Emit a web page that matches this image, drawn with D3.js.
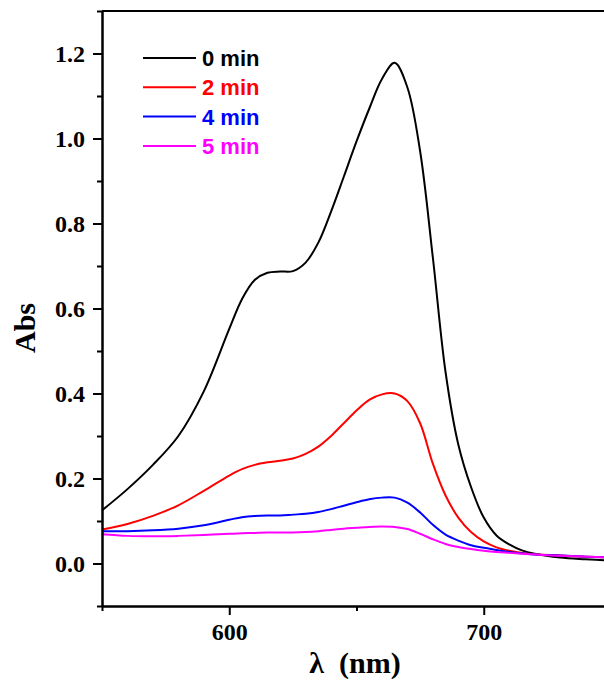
<!DOCTYPE html>
<html><head><meta charset="utf-8">
<script src="https://cdn.jsdelivr.net/npm/d3@7"></script>
<style>body{margin:0;background:#fff}svg{display:block}</style>
</head><body>
<script>
const wavelengths = [550,560,570,580,590,600,605,610,615,620,625,630,635,640,645,650,655,660,665,670,675,680,685,690,695,700,705,710,715,720,730,740,750];
const abs0 = [0.125,0.175,0.232,0.3,0.405,0.552,0.622,0.667,0.684,0.687,0.688,0.708,0.755,0.828,0.91,0.993,1.07,1.14,1.178,1.12,0.97,0.72,0.45,0.28,0.18,0.108,0.066,0.045,0.031,0.023,0.014,0.01,0.007];
const abs2 = [0.08,0.093,0.112,0.137,0.171,0.207,0.222,0.232,0.238,0.242,0.247,0.258,0.275,0.3,0.33,0.36,0.385,0.398,0.4,0.382,0.33,0.235,0.16,0.108,0.074,0.052,0.038,0.03,0.025,0.022,0.019,0.016,0.014];
const abs4 = [0.076,0.076,0.078,0.082,0.09,0.103,0.109,0.112,0.113,0.113,0.115,0.117,0.121,0.128,0.136,0.144,0.151,0.155,0.155,0.143,0.12,0.091,0.068,0.054,0.043,0.037,0.032,0.027,0.024,0.021,0.019,0.016,0.014];
const abs5 = [0.069,0.065,0.064,0.065,0.067,0.07,0.071,0.072,0.073,0.073,0.073,0.074,0.076,0.079,0.082,0.084,0.086,0.087,0.086,0.081,0.07,0.057,0.046,0.039,0.034,0.03,0.027,0.025,0.023,0.021,0.018,0.016,0.014];
const seriesNames = ["0 min","2 min","4 min","5 min"];
const seriesColors = ["#000000","#ff0000","#0000ff","#ff00ff"];
const seriesValues = [abs0, abs2, abs4, abs5];
const xMajorTicks = [600,700];
const xMinorTicks = [550,650,750];
const yMajorTicks = [0,0.2,0.4,0.6,0.8,1.0,1.2];
const yMinorTicks = [-0.1,0.1,0.3,0.5,0.7,0.9,1.1,1.3];

const W = 604, H = 680;
const svg = d3.select("body").append("svg").attr("width", W).attr("height", H);
const x = d3.scaleLinear().domain([550,750]).range([102,611]);
const y = d3.scaleLinear().domain([-0.1,1.3]).range([606,11]);
const serif = "'Liberation Serif','Times New Roman',serif";
const sans = "'Liberation Sans',Arial,sans-serif";

// frame top line
svg.append("line").attr("x1", x(550)).attr("x2", x(750)).attr("y1", y(1.3)).attr("y2", y(1.3))
  .attr("stroke","#000").attr("stroke-width",2);

const line = d3.line().x((d,i)=>x(wavelengths[i])).y(d=>y(d)).curve(d3.curveCatmullRom.alpha(0.5));
seriesValues.forEach((vals, k) => {
  svg.append("path").datum(vals).attr("d", line).attr("fill","none")
    .attr("stroke", seriesColors[k]).attr("stroke-width", 2);
});

function styleAxis(g){
  g.selectAll(".domain").attr("stroke","#000").attr("stroke-width",2);
  g.selectAll(".tick line").attr("stroke","#000").attr("stroke-width",2);
  g.selectAll("text").attr("font-family", serif).attr("font-weight","bold").attr("font-size",24).attr("fill","#000");
}
// y axis
const yMaj = svg.append("g").attr("transform",`translate(${x(550)},0)`)
  .call(d3.axisLeft(y).tickValues(yMajorTicks).tickSize(9).tickPadding(8).tickFormat(d3.format(".1f")).tickSizeOuter(0));
styleAxis(yMaj);
const yMin = svg.append("g").attr("transform",`translate(${x(550)},0)`)
  .call(d3.axisLeft(y).tickValues(yMinorTicks).tickSize(5).tickFormat("").tickSizeOuter(0));
styleAxis(yMin);
// x axis
const xMaj = svg.append("g").attr("transform",`translate(0,${y(-0.1)})`)
  .call(d3.axisBottom(x).tickValues(xMajorTicks).tickSize(9).tickPadding(8).tickFormat(d3.format("d")).tickSizeOuter(0));
styleAxis(xMaj);
const xMin = svg.append("g").attr("transform",`translate(0,${y(-0.1)})`)
  .call(d3.axisBottom(x).tickValues(xMinorTicks).tickSize(5).tickFormat("").tickSizeOuter(0));
styleAxis(xMin);

// axis titles
svg.append("text").attr("transform","translate(35,328) rotate(-90)").attr("text-anchor","middle")
  .attr("font-family", serif).attr("font-weight","bold").attr("font-size",30).text("Abs");
svg.append("text").attr("x",355).attr("y",673).attr("text-anchor","middle")
  .attr("font-family", serif).attr("font-weight","bold").attr("font-size",30)
  .style("white-space","pre").text("λ  (nm)");

// legend
const leg = svg.append("g");
seriesNames.forEach((name,k)=>{
  const ly = 58 + k*29.3;
  leg.append("line").attr("x1",143).attr("x2",196).attr("y1",ly).attr("y2",ly)
    .attr("stroke",seriesColors[k]).attr("stroke-width",2);
  leg.append("text").attr("x",202).attr("y",ly+8).attr("font-family",sans).attr("font-weight","bold")
    .attr("font-size",22).attr("fill",seriesColors[k]).text(name);
});
</script>
</body></html>
